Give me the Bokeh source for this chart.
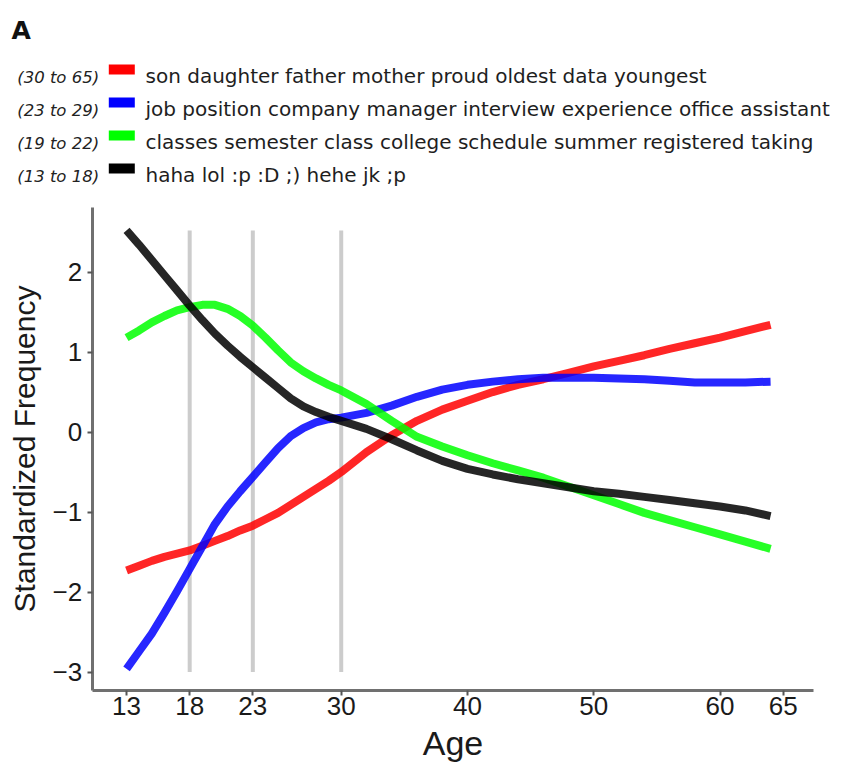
from bokeh.plotting import figure
from bokeh.models import Range1d, FixedTicker
from bokeh.core.properties import value
from bokeh.embed import file_html
from bokeh.resources import INLINE

# ---------------- data ----------------
ages = [13, 14, 15, 16, 17, 18, 19, 20, 21, 22, 23, 24, 25, 26, 27, 28, 29, 30,
        32, 34, 36, 38, 40, 42, 44, 46, 48, 50, 52, 54, 56, 58, 60, 62, 64]

red_30_65 = [-1.73, -1.67, -1.61, -1.56, -1.52, -1.48, -1.42, -1.36, -1.30, -1.23,
             -1.17, -1.09, -1.01, -0.91, -0.81, -0.71, -0.61, -0.50,
             -0.25, -0.04, 0.14, 0.28, 0.39, 0.50, 0.59, 0.66, 0.74, 0.82,
             0.89, 0.96, 1.04, 1.11, 1.18, 1.26, 1.34]

blue_23_29 = [-2.96, -2.74, -2.52, -2.26, -1.99, -1.71, -1.43, -1.15, -0.93, -0.74,
              -0.56, -0.38, -0.20, -0.05, 0.05, 0.12, 0.16, 0.18,
              0.24, 0.33, 0.44, 0.53, 0.59, 0.63, 0.66, 0.68, 0.68, 0.68,
              0.67, 0.66, 0.64, 0.62, 0.62, 0.62, 0.63]

green_19_22 = [1.18, 1.27, 1.37, 1.45, 1.52, 1.56, 1.59, 1.59, 1.54, 1.45,
               1.33, 1.18, 1.02, 0.87, 0.76, 0.67, 0.59, 0.52,
               0.35, 0.14, -0.06, -0.18, -0.29, -0.39, -0.48, -0.57, -0.68, -0.79,
               -0.90, -1.01, -1.10, -1.19, -1.28, -1.37, -1.46]

black_13_18 = [2.52, 2.34, 2.15, 1.96, 1.77, 1.58, 1.40, 1.23, 1.08, 0.94,
               0.81, 0.68, 0.55, 0.42, 0.32, 0.25, 0.19, 0.14,
               0.04, -0.09, -0.23, -0.36, -0.46, -0.53, -0.59, -0.64, -0.69, -0.74,
               -0.77, -0.81, -0.85, -0.89, -0.93, -0.98, -1.05]

series = [red_30_65, blue_23_29, green_19_22, black_13_18]
series_colors = ["#ff0000", "#0000ff", "#00ff00", "#000000"]
range_labels = ["(30 to 65)", "(23 to 29)", "(19 to 22)", "(13 to 18)"]
topic_words = [
    "son daughter father mother proud oldest data youngest",
    "job position company manager interview experience office assistant",
    "classes semester class college schedule summer registered taking",
    "haha lol :p :D ;) hehe jk ;p",
]

boundary_ages = [18, 23, 30]
boundary_low = -3.0
boundary_high = 2.52

x_ticks = [13, 18, 23, 30, 40, 50, 60, 65]
y_ticks = [-3, -2, -1, 0, 1, 2]
y_tick_labels = ["\u22123", "\u22122", "\u22121", "0", "1", "2"]

panel_title = "A"
x_label = "Age"
y_label = "Standardized Frequency"

# axis extents (data units)
X0, X1 = 10.28, 67.4
Y0, Y1 = -3.23, 2.81

# ---------------- layout geometry (pixels) ----------------
W, H = 840, 768
AX_LEFT_PX, AX_RIGHT_PX = 91.7, 813.0      # where X0 / X1 sit on the canvas
AX_TOP_PX, AX_BOTTOM_PX = 206.7, 690.0     # where Y1 / Y0 sit on the canvas
KX = (AX_RIGHT_PX - AX_LEFT_PX) / (X1 - X0)
KY = (AX_BOTTOM_PX - AX_TOP_PX) / (Y1 - Y0)


def dx(px):
    return X0 + (px - AX_LEFT_PX) / KX


def dy(py):
    return Y1 - (py - AX_TOP_PX) / KY


p = figure(width=W, height=H, x_range=Range1d(dx(0), dx(W)),
           y_range=Range1d(dy(H), dy(0)), output_backend="svg",
           toolbar_location=None, min_border=0, outline_line_color=None)
p.grid.visible = False

# ---------------- plot marks ----------------
for a in boundary_ages:
    p.segment(x0=[a], y0=[boundary_low], x1=[a], y1=[boundary_high],
              line_color="#cccccc", line_width=4)

for ys, c in zip(series, series_colors):
    p.line(ages, ys, line_color=c, line_width=8, line_alpha=0.85,
           line_join="round", line_cap="butt")

# ---------------- axes (pinned to the data region) ----------------
p.xaxis.fixed_location = Y0
p.xaxis.bounds = (X0, X1)
p.yaxis.fixed_location = X0
p.yaxis.bounds = (Y0, Y1)
p.xaxis.ticker = FixedTicker(ticks=x_ticks)
p.yaxis.ticker = FixedTicker(ticks=y_ticks)
p.yaxis.major_label_overrides = {t: s for t, s in zip(y_ticks, y_tick_labels)}

for ax in (p.xaxis[0], p.yaxis[0]):
    ax.axis_line_color = "#707070"
    ax.axis_line_width = 3
    ax.major_tick_line_color = "#555555"
    ax.major_tick_line_width = 2
    ax.major_tick_in = 0
    ax.major_tick_out = 5
    ax.minor_tick_line_color = None
    ax.major_label_text_font = "Liberation Sans"
    ax.major_label_text_font_size = "26px"
    ax.major_label_text_color = "#1a1a1a"
    ax.axis_label_text_font = "Liberation Sans"
    ax.axis_label_text_font_style = "normal"
    ax.axis_label_text_color = "#1a1a1a"

p.xaxis.axis_label = x_label
p.xaxis.axis_label_text_font_size = "34px"
p.xaxis.major_label_standoff = 1
p.xaxis.axis_label_standoff = 6

p.yaxis.axis_label = y_label
p.yaxis.axis_label_text_font_size = "30px"
p.yaxis.major_label_standoff = 5
p.yaxis.axis_label_standoff = 9

# ---------------- header: panel letter + legend ----------------
p.text(x=[dx(11)], y=[dy(30)], text=[panel_title], text_font=value("DejaVu Sans"),
       text_font_style="bold", text_font_size="25px", text_color="#111111",
       text_baseline="alphabetic", text_align="left")

rows = range(len(range_labels))
word_base = [75 + 33 * i for i in rows]
p.text(x=[dx(16.7)] * 4, y=[dy(b + 1.5) for b in word_base], text=range_labels,
       text_font=value("DejaVu Sans"), text_font_style="italic",
       text_font_size="16.5px", text_color="#222222",
       text_baseline="alphabetic", text_align="left")
p.quad(left=[dx(108.3)] * 4, right=[dx(134.3)] * 4,
       top=[dy(b - 11) for b in word_base], bottom=[dy(b - 1) for b in word_base],
       fill_color=series_colors, line_color=None)
p.text(x=[dx(145)] * 4, y=[dy(b) for b in word_base], text=topic_words,
       text_font=value("DejaVu Sans"), text_font_size="20px", text_color="#1e1e1e",
       text_baseline="alphabetic", text_align="left")

open("out.html", "w").write(file_html(p, INLINE))
